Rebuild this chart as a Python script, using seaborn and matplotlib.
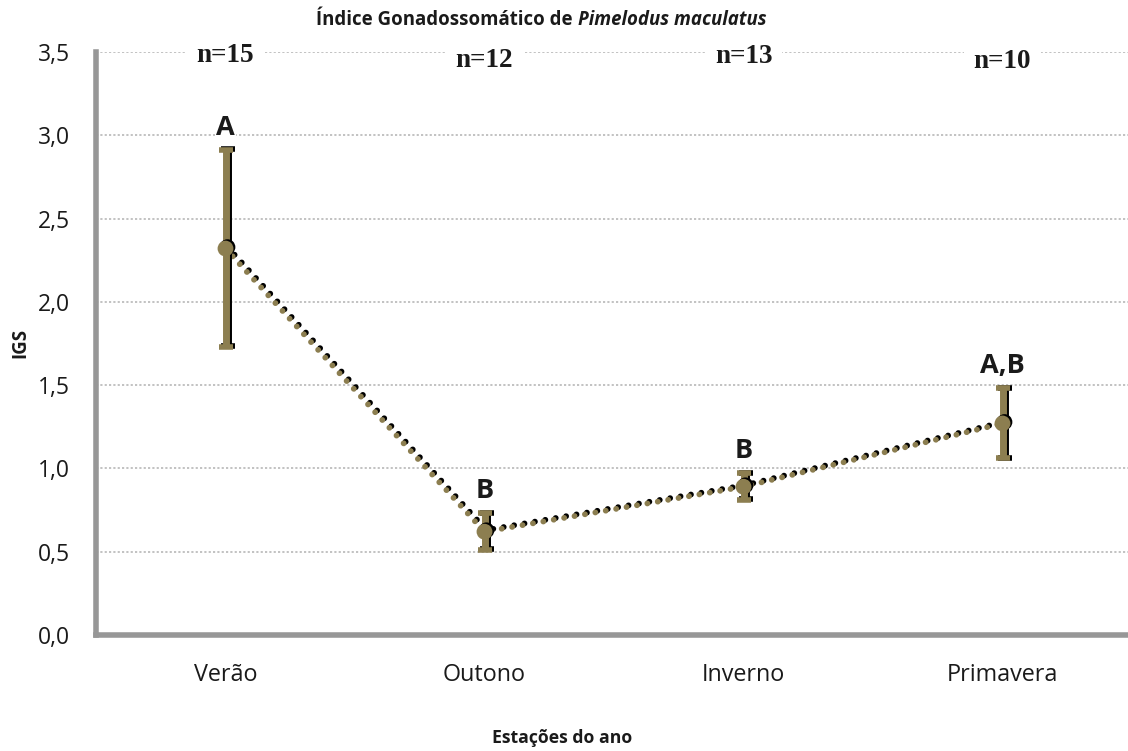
import matplotlib
matplotlib.use("Agg")
import matplotlib.pyplot as plt
import matplotlib.patheffects as pe
import matplotlib.transforms as mtransforms
import numpy as np
import pandas as pd
import seaborn as sns

seasons = ["Verão", "Outono", "Inverno", "Primavera"]
igs_mean = [2.32, 0.62, 0.89, 1.27]
igs_err = [0.59, 0.11, 0.08, 0.21]
n_labels = ["n=15", "n=12", "n=13", "n=10"]
n_label_y = [3.48, 3.45, 3.47, 3.44]
letters = ["A", "B", "B", "A,B"]

sns.set_theme(style="white")
plt.rcParams["font.family"] = ["Open Sans", "DejaVu Sans"]

olive = "#8c7e50"
axis_grey = "#979797"
ink = "#1a1a1a"

fig = plt.figure(figsize=(11.28, 7.51), dpi=100)
ax = fig.add_axes([96 / 1128, 1 - 635 / 751, 1036 / 1128, (635 - 52) / 751])

df = pd.DataFrame({"pos": np.arange(len(seasons)), "igs": igs_mean})
x = df["pos"].to_numpy()

shadow_fx = [pe.SimpleLineShadow(offset=(1.4, 1.2), shadow_color="black", alpha=1), pe.Normal()]

# round-dotted connecting line with a dark shadow
sns.lineplot(data=df, x="pos", y="igs", ax=ax, color=olive, linewidth=4.2,
             linestyle=(0, (0.01, 1.8)), dash_capstyle="round", zorder=3,
             path_effects=shadow_fx)

# error bars: black shadow underneath, olive on top
shadow = mtransforms.offset_copy(ax.transData, fig=fig, x=1.6, y=0.6, units="points")
ax.errorbar(x, igs_mean, yerr=igs_err, fmt="none", ecolor="black", elinewidth=5,
            capsize=5, capthick=4, transform=shadow, zorder=4)
ax.errorbar(x, igs_mean, yerr=igs_err, fmt="none", ecolor=olive, elinewidth=5,
            capsize=5, capthick=4, zorder=5)

shadow_pts = mtransforms.offset_copy(ax.transData, fig=fig, x=1.4, y=1.0, units="points")
ax.scatter(x, igs_mean, s=130, color="black", edgecolor="none", transform=shadow_pts, zorder=6)
sns.scatterplot(data=df, x="pos", y="igs", ax=ax, color=olive, s=130,
                edgecolor="none", zorder=7)

ax.set_xlim(-0.5, 3.5)
ax.set_ylim(0, 3.5)

# y ticks and dotted grid
yt = np.arange(0, 3.51, 0.5)
ax.set_yticks(yt)
ax.set_yticklabels([f"{v:.1f}".replace(".", ",") for v in yt], fontsize=16.5)
for v in yt[1:]:
    ax.axhline(v, color="#bdbdbd", linestyle=(0, (1.2, 1.2)), linewidth=1.3, zorder=1)

# x ticks at the category boundaries, labels at centres
ax.set_xticks(np.arange(-0.5, 3.6, 1.0))
ax.set_xticklabels([])
ax.set_xticks(x, minor=True)
ax.set_xticklabels(seasons, minor=True, fontsize=16.8)
ax.tick_params(axis="x", which="major", direction="out", length=7, width=3, color=axis_grey)
ax.tick_params(axis="x", which="minor", length=0, pad=20, labelcolor=ink)
ax.tick_params(axis="y", direction="out", length=7, width=3, color=axis_grey,
               labelcolor=ink, pad=12)

for side in ["top", "right"]:
    ax.spines[side].set_visible(False)
for side in ["left", "bottom"]:
    ax.spines[side].set_color(axis_grey)
    ax.spines[side].set_linewidth(4)

ax.set_xlabel("")
ax.set_ylabel("")
fig.text(20 / 1128, 1 - 343 / 751, "IGS", rotation=90, ha="center", va="center",
         fontsize=13.5, fontweight="bold", color=ink)
fig.text(562 / 1128, 1 - 738 / 751, "Estações do ano", ha="center", va="center",
         fontsize=12.7, fontweight="bold", color=ink)

# sample sizes along the top
for xi, lab, yy in zip(x, n_labels, n_label_y):
    ax.text(xi, yy, lab, ha="center", va="center", fontsize=19.5, fontweight="bold",
            family="Liberation Serif", color=ink, zorder=8,
            bbox=dict(facecolor="white", edgecolor="none", pad=7))

# significance letters above the error bars
for xi, m, e, lab in zip(x, igs_mean, igs_err, letters):
    ax.text(xi, m + e + 0.09, lab, ha="center", va="baseline", fontsize=19.5,
            fontweight="bold", color=ink, zorder=8,
            bbox=dict(facecolor="white", edgecolor="none", pad=1))

# title: plain part followed by the bold-italic species name, sharing a baseline
base_y = 1 - 25 / 751
t1 = fig.text(0.3, base_y, "Índice Gonadossomático de ", ha="left", va="baseline",
              fontsize=13.4, fontweight="bold", color=ink)
t2 = fig.text(0.5, base_y, "Pimelodus maculatus", ha="left", va="baseline",
              fontsize=13.4, fontweight="bold", style="italic", color=ink)
fig.canvas.draw()
r = fig.canvas.get_renderer()
w1 = t1.get_window_extent(r).width
w2 = t2.get_window_extent(r).width
x0 = 541.5 - (w1 + w2) / 2
t1.set_x(x0 / 1128)
t2.set_x((x0 + w1) / 1128)

fig.savefig("out.png", dpi=100)
